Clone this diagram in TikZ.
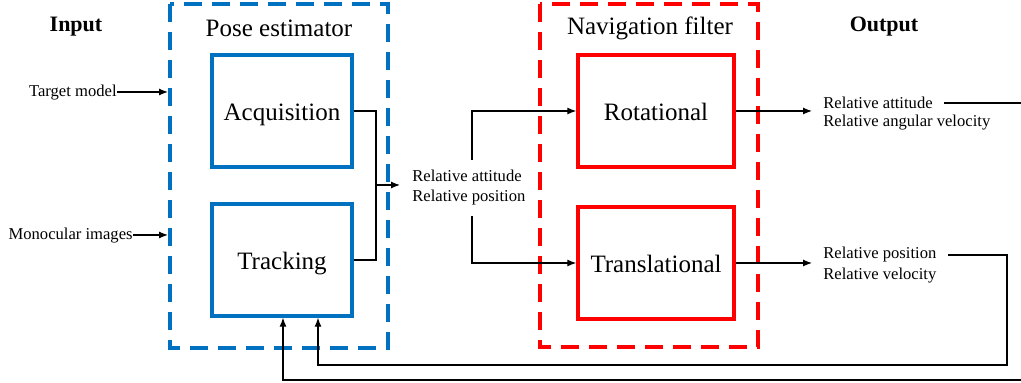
\documentclass[tikz,border=0pt]{standalone}
\usepackage{fontspec}
\setmainfont{Liberation Serif}
\usetikzlibrary{arrows.meta}
\definecolor{PEBlue}{HTML}{0070C0}
\definecolor{NFRed}{HTML}{FF0000}

\begin{document}
\begin{tikzpicture}[x=0.5pt,y=-0.5pt,
  blockbox/.style={draw,line width=1.7pt,minimum height=56pt,text height=11.5pt,text depth=2pt,font=\fontsize{12.5}{14}\selectfont},
  groupbox/.style={line width=1.7pt,dash pattern=on 9pt off 5pt},
  head/.style={font=\fontsize{12.5}{14}\selectfont},
  lbl/.style={font=\fontsize{8.3}{10}\selectfont,inner xsep=5.5pt,inner ysep=1pt},
  wire/.style={line width=0.6pt},
  feed/.style={wire,-{Latex[length=4.5pt,width=3.5pt]}}]
\clip (0,0) rectangle (1021,383);
% group frames
\draw[groupbox,PEBlue] (170,4) rectangle (388,348);
\draw[groupbox,NFRed] (540,4) rectangle (758,347);
% headers
\node[head,font=\fontsize{11}{13}\selectfont\bfseries] (inp) at (76,27) {Input};
\node[head] (pose) at (279,28) {Pose estimator};
\node[head] (nav) at (650,28) {Navigation filter};
\node[head,font=\fontsize{11}{13}\selectfont\bfseries] (outp) at (884,27) {Output};
% blocks
\node[blockbox,PEBlue,minimum width=70pt,text=black] (acq) at (282,111) {Acquisition};
\node[blockbox,PEBlue,minimum width=70pt,text=black] (trk) at (282,260) {Tracking};
\node[blockbox,NFRed,minimum width=78pt,text=black] (rot) at (656,111) {Rotational};
\node[blockbox,NFRed,minimum width=78pt,text=black] (trl) at (656,263) {Translational};
% inputs
\node[lbl,anchor=east,inner xsep=0pt] (target) at (117,93) {Target model};
\node[lbl,anchor=east,inner xsep=0pt] (mono) at (133,236) {Monocular images};
\coordinate (tin) at (168,92);
\coordinate (min) at (168,235);
\draw[feed] (target.east |- tin) -- (tin);
\draw[feed] (mono.east |- min) -- (min);
% pose estimator output
\node[lbl,anchor=west,align=left,inner xsep=6pt,inner ysep=5pt] (mid) at (400,188) {Relative attitude\\Relative position};
\coordinate (jn) at (376,185);
\coordinate (sp) at (472,0);
\draw[wire] (acq.east) -| (jn) |- (trk.east);
\draw[feed] (jn) -- (jn -| mid.west);
\draw[feed] (sp |- mid.north) |- (rot.west);
\draw[feed] (sp |- mid.south) |- (trl.west);
% filter outputs
\node[lbl,anchor=west] (ratt) at (812,103) {Relative attitude};
\node[lbl,anchor=west] (rang) at (812,123) {Relative angular velocity};
\node[lbl,anchor=west] (rpos) at (812,255) {Relative position};
\node[lbl,anchor=west] (rvel) at (812,276) {Relative velocity};
\draw[feed] (rot.east) -- (rot.east -| ratt.west);
\draw[feed] (trl.east) -- (trl.east -| rpos.west);
% feedback to tracking
\coordinate (edge) at (1030,0);
\coordinate (rx) at (1007,365);
\coordinate (fb1) at (283,380);
\coordinate (fb2) at (318,365);
\draw[feed] (ratt.east) -- (ratt.east -| edge) |- (fb1) -- (fb1 |- trk.south);
\draw[feed] (rpos.east) -| (rx) -- (fb2) -- (fb2 |- trk.south);
\end{tikzpicture}
\end{document}
